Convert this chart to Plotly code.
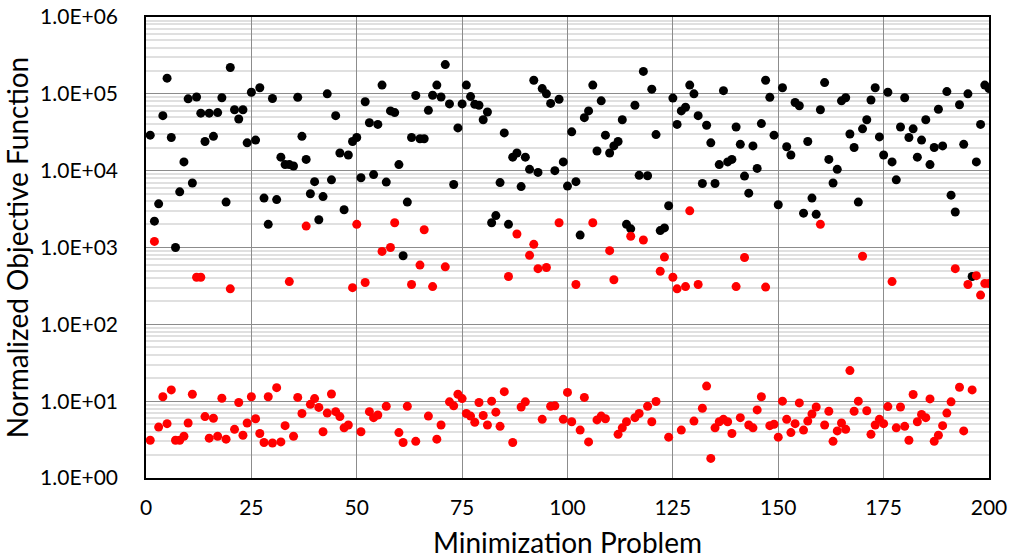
import plotly.graph_objects as go

problems = list(range(1, 201))

black_values = [
    2.9e4, 2.2e3, 3.7e3, 5.2e4, 1.6e5, 2.7e4, 1.0e3, 5.3e3, 1.3e4, 8.6e4,
    6.9e3, 9.1e4, 5.6e4, 2.4e4, 5.6e4, 2.8e4, 5.7e4, 8.9e4, 3.9e3, 2.2e5,
    6.2e4, 4.7e4, 6.2e4, 2.3e4, 1.05e5, 2.5e4, 1.2e5, 4.4e3, 2.0e3, 8.7e4,
    4.2e3, 1.5e4, 1.2e4, 1.2e4, 1.15e4, 9.0e4, 2.8e4, 1.4e4, 5.0e3, 7.2e3,
    2.3e3, 4.6e3, 1.0e5, 7.6e3, 5.2e4, 1.7e4, 3.1e3, 1.6e4, 2.4e4, 2.7e4,
    8.1e3, 7.9e4, 4.2e4, 8.9e3, 4.0e4, 1.3e5, 7.1e3, 6.0e4, 5.7e4, 1.2e4,
    7.8e2, 3.9e3, 2.7e4, 9.5e4, 2.6e4, 2.6e4, 6.1e4, 9.6e4, 1.3e5, 9.1e4,
    2.4e5, 7.4e4, 6.6e3, 3.6e4, 7.4e4, 1.3e5, 9.2e4, 7.3e4, 7.1e4, 4.6e4,
    5.8e4, 2.1e3, 2.6e3, 7.0e3, 3.1e4, 2.0e3, 1.5e4, 1.7e4, 6.2e3, 1.5e4,
    1.04e4, 1.5e5, 9.5e3, 1.17e5, 1.0e5, 7.5e4, 1.0e4, 8.5e4, 1.3e4, 6.3e3,
    3.2e4, 7.2e3, 1.45e3, 4.9e4, 6.0e4, 1.3e5, 1.8e4, 8.1e4, 2.9e4, 1.7e4,
    2.1e4, 2.4e4, 4.6e4, 2.0e3, 1.75e3, 7.1e4, 8.7e3, 1.96e5, 8.6e3, 1.15e5,
    2.95e4, 1.66e3, 1.8e3, 3.5e3, 8.8e4, 4.0e4, 6.0e4, 6.7e4, 1.3e5, 1.0e5,
    5.2e4, 6.8e3, 3.9e4, 2.3e4, 6.8e3, 1.2e4, 1.1e5, 1.3e4, 1.4e4, 3.7e4,
    2.2e4, 8.5e3, 5.1e3, 2.1e4, 1.07e4, 4.1e4, 1.5e5, 9.0e4, 2.9e4, 3.6e3,
    1.2e5, 2.05e4, 1.6e4, 7.7e4, 7.0e4, 2.8e3, 2.4e4, 4.4e3, 2.7e3, 6.2e4,
    1.4e5, 1.4e4, 6.9e3, 1.04e4, 8.1e4, 8.9e4, 3.0e4, 2.0e4, 3.9e3, 3.5e4,
    4.6e4, 8.3e4, 1.2e5, 2.75e4, 1.6e4, 1.05e5, 1.3e4, 7.6e3, 3.7e4, 8.9e4,
    2.7e4, 3.5e4, 1.5e4, 2.5e4, 4.6e4, 1.2e4, 2.0e4, 6.3e4, 2.1e4, 1.07e5,
    4.8e3, 2.9e3, 7.2e4, 2.2e4, 1.0e5, 4.2e2, 1.3e4, 4.0e4, 1.3e5, 1.17e5,
]

red_values = [
    3.1, 1.2e3, 4.6, 11.4, 5.1, 14.0, 3.1, 3.1, 3.5, 5.2,
    12.3, 4.1e2, 4.1e2, 6.3, 3.3, 6.0, 3.5, 10.9, 3.2, 2.9e2,
    4.3, 9.6, 3.6, 5.2, 11.4, 5.9, 3.8, 2.9, 11.4, 2.85,
    15.0, 2.95, 4.8, 3.6e2, 3.5, 11.2, 6.9, 1.9e3, 9.1, 10.8,
    8.3, 4.0, 7.0, 12.4, 7.3, 6.3, 4.5, 4.9, 3.0e2, 2.0e3,
    4.0, 3.5e2, 7.3, 6.1, 6.6, 8.9e2, 8.6, 1.0e3, 2.1e3, 3.9,
    2.9, 8.6, 3.3e2, 3.0, 5.9e2, 1.7e3, 6.4, 3.1e2, 3.2, 4.9,
    5.6e2, 9.8, 8.7, 12.3, 10.8, 6.9, 6.4, 5.3, 9.6, 6.5,
    4.9, 10.0, 7.2, 4.7, 13.3, 4.2e2, 2.9, 1.5e3, 8.4, 9.8,
    7.9e2, 1.1e3, 5.3e2, 5.8, 5.5e2, 8.6, 8.7, 2.1e3, 5.8, 13.0,
    5.4, 3.3e2, 4.2, 11.2, 2.95, 2.1e3, 5.7, 6.4, 5.9, 9.1e2,
    3.8e2, 3.7, 4.5, 5.4, 1.4e3, 6.1, 6.9, 1.25e3, 8.6, 5.4,
    9.9, 4.9e2, 7.5e2, 3.4, 4.1e2, 2.9e2, 4.2, 3.1e2, 3.0e3, 5.5,
    3.3e2, 8.1, 15.7, 1.8, 4.5, 5.4, 5.8, 5.4, 3.8, 3.1e2,
    6.1, 7.4e2, 4.9, 4.5, 7.7, 11.4, 3.05e2, 4.8, 5.0, 3.4,
    10.0, 5.8, 3.9, 5.1, 9.5, 4.2, 5.5, 6.8, 8.4, 2.0e3,
    4.9, 7.4, 3.0, 4.1, 5.2, 4.3, 25.0, 7.4, 10.0, 7.7e2,
    7.5, 3.7, 4.9, 5.8, 5.1, 8.5, 3.6e2, 4.5, 8.4, 4.7,
    3.1, 12.2, 5.4, 6.7, 6.1, 10.7, 3.0, 3.6, 4.8, 7.0,
    9.8, 5.3e2, 15.2, 4.1, 3.3e2, 14.0, 4.3e2, 2.4e2, 3.4e2, 3.4e2,
]

x_ticks = [0, 25, 50, 75, 100, 125, 150, 175, 200]
y_tick_vals = [1, 10, 100, 1000, 10000, 100000, 1000000]
y_tick_text = ["1.0E+00", "1.0E+01", "1.0E+02", "1.0E+03", "1.0E+04", "1.0E+05", "1.0E+06"]
minor_vals = [m * d for d in y_tick_vals[:-1] for m in range(2, 10)]

FONT = "Lato"

fig = go.Figure()
fig.add_trace(go.Scatter(
    x=problems, y=black_values, mode="markers",
    marker=dict(color="black", size=9, line=dict(width=0)),
    showlegend=False,
))
fig.add_trace(go.Scatter(
    x=problems, y=red_values, mode="markers",
    marker=dict(color="#ff0000", size=9, line=dict(width=0)),
    showlegend=False,
))

fig.update_layout(
    width=1010, height=559,
    margin=dict(l=146, r=21, t=17, b=81),
    paper_bgcolor="white", plot_bgcolor="white",
    font=dict(family=FONT, color="black"),
)
fig.update_xaxes(
    range=[0, 200], tickvals=x_ticks, ticks="",
    showgrid=True, gridcolor="#8c8c8c", gridwidth=1,
    showline=True, linecolor="black", linewidth=1.5, mirror=True,
    zeroline=False, automargin=False,
    tickfont=dict(size=21, family=FONT),
    ticklabelstandoff=10,
    title=dict(text="Minimization Problem", font=dict(size=28, family=FONT), standoff=24),
)
fig.update_yaxes(
    type="log", range=[0, 6], automargin=False,
    tickvals=y_tick_vals, ticktext=y_tick_text, ticks="",
    showgrid=True, gridcolor="#8c8c8c", gridwidth=1,
    minor=dict(tickvals=minor_vals, showgrid=True, gridcolor="#e0e0e0", gridwidth=1.5, ticks=""),
    showline=True, linecolor="black", linewidth=1.5, mirror=True,
    zeroline=False,
    tickfont=dict(size=21, family=FONT),
    ticklabelstandoff=22,
    title=dict(text="Normalized Objective Function", font=dict(size=28, family=FONT), standoff=4),
)

fig.write_html("out.html")
